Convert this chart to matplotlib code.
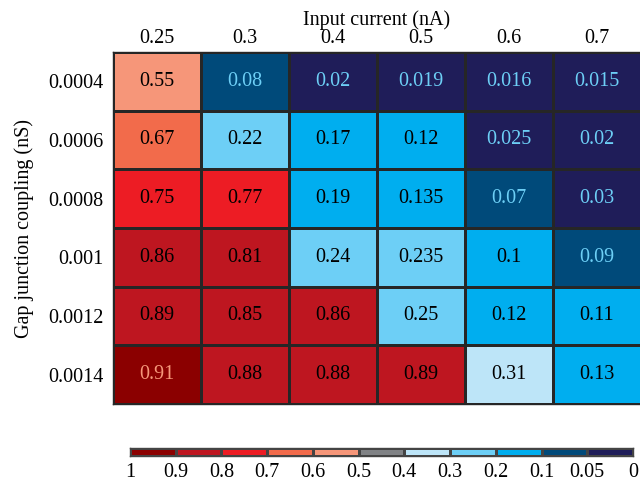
import numpy as np
import matplotlib
matplotlib.use("Agg")
import matplotlib.pyplot as plt
from matplotlib.colors import ListedColormap, BoundaryNorm

plt.rcParams['font.family'] = ['Liberation Serif', 'DejaVu Serif']

x_labels = ["0.25", "0.3", "0.4", "0.5", "0.6", "0.7"]
y_labels = ["0.0004", "0.0006", "0.0008", "0.001", "0.0012", "0.0014"]
values = [
    [0.55, 0.08, 0.02, 0.019, 0.016, 0.015],
    [0.67, 0.22, 0.17, 0.12, 0.025, 0.02],
    [0.75, 0.77, 0.19, 0.135, 0.07, 0.03],
    [0.86, 0.81, 0.24, 0.235, 0.1, 0.09],
    [0.89, 0.85, 0.86, 0.25, 0.12, 0.11],
    [0.91, 0.88, 0.88, 0.89, 0.31, 0.13],
]
cell_text = [
    ["0.55", "0.08", "0.02", "0.019", "0.016", "0.015"],
    ["0.67", "0.22", "0.17", "0.12", "0.025", "0.02"],
    ["0.75", "0.77", "0.19", "0.135", "0.07", "0.03"],
    ["0.86", "0.81", "0.24", "0.235", "0.1", "0.09"],
    ["0.89", "0.85", "0.86", "0.25", "0.12", "0.11"],
    ["0.91", "0.88", "0.88", "0.89", "0.31", "0.13"],
]
bounds = [0, 0.05, 0.1, 0.2, 0.3, 0.4, 0.5, 0.6, 0.7, 0.8, 0.9, 1.0]
bound_labels = ["0", "0.05", "0.1", "0.2", "0.3", "0.4", "0.5", "0.6", "0.7", "0.8", "0.9", "1"]
colors = ["#1f1d59", "#004a7a", "#00aeef", "#6dcff6", "#bde5f8", "#808285",
          "#f69679", "#f26b4b", "#ed1c24", "#be1620", "#8b0000"]

cmap = ListedColormap(colors)
norm = BoundaryNorm(bounds, cmap.N)
FS = 14.5
EDGE = "#262626"

fig = plt.figure(figsize=(6.4, 4.83), dpi=100)
ax = fig.add_axes([113/640, 1-404/483, 528/640, 352/483])
data = np.array(values)
ax.pcolormesh(np.arange(7), np.arange(7), data, cmap=cmap, norm=norm,
              edgecolor=EDGE, linewidth=0.8)
ax.set_xlim(0, 6)
ax.set_ylim(6, 0)
ax.xaxis.tick_top()
ax.xaxis.set_label_position('top')
ax.set_xticks(np.arange(6) + 0.5)
ax.set_xticklabels(x_labels, fontsize=FS)
ax.set_yticks(np.arange(6) + 0.5)
ax.set_yticklabels(y_labels, fontsize=FS)
ax.tick_params(axis='y', length=0, pad=7)
ax.tick_params(axis='x', length=0, pad=3)
ax.set_xlabel("Input current (nA)", fontsize=FS, labelpad=3)
ax.set_ylabel("Gap junction coupling (nS)", fontsize=FS, labelpad=10)
for s in ax.spines.values():
    s.set_edgecolor(EDGE)
    s.set_linewidth(1.0)

for i in range(6):
    for j in range(6):
        v = values[i][j]
        if v < 0.1:
            c = "#6dcff6"
        elif v > 0.9:
            c = "#f69679"
        else:
            c = "black"
        ax.text(j + 0.5, i + 0.5, cell_text[i][j], ha='center', va='center',
                fontsize=FS, color=c)

# colorbar (discrete, equally spaced, reversed: 1 on left)
cax = fig.add_axes([130/640, 1-456/483, 503/640, 8/483])
n = len(colors)
cb_vals = np.array([list(reversed([(bounds[k] + bounds[k+1]) / 2 for k in range(n)]))])
cax.pcolormesh(np.arange(n + 1), [0, 1], cb_vals, cmap=cmap, norm=norm,
               edgecolor="#444444", linewidth=0.9)
cax.set_xlim(0, n)
cax.set_ylim(0, 1)
cax.set_yticks([])
cax.set_xticks(np.arange(n + 1))
cax.set_xticklabels(list(reversed(bound_labels)), fontsize=FS)
cax.tick_params(length=0, pad=5)
for s in cax.spines.values():
    s.set_edgecolor("#444444")
    s.set_linewidth(1.0)

fig.savefig("out.png", dpi=100)
